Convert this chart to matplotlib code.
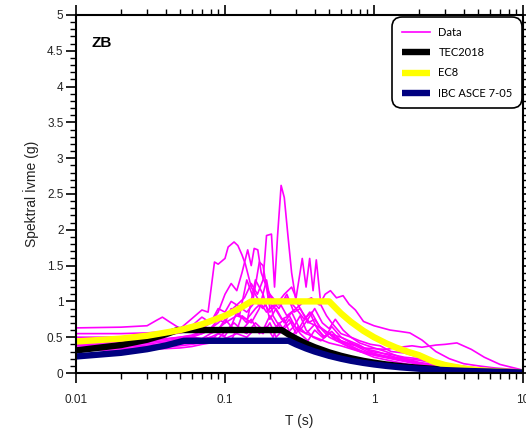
import matplotlib
matplotlib.use("Agg")
import matplotlib.pyplot as plt
from matplotlib.ticker import MultipleLocator, LogLocator, NullFormatter, FuncFormatter

# ---------------------------------------------------------------------------
# Recorded response spectra (period in s, spectral acceleration in g)
# ---------------------------------------------------------------------------
rec_a_T = [0.01, 0.02, 0.03, 0.035, 0.038, 0.042, 0.05, 0.06, 0.07, 0.077, 0.085, 0.09,
           0.1, 0.105, 0.115, 0.122, 0.13, 0.137, 0.15, 0.17, 0.19, 0.21, 0.24, 0.27, 0.3,
           0.35, 0.4, 0.5, 0.6, 0.8, 1.0, 1.3, 1.7, 2.2, 3, 4, 6, 10]
rec_a_Sa = [0.63, 0.64, 0.66, 0.74, 0.78, 0.72, 0.62, 0.76, 0.88, 0.85, 1.55, 1.52,
            1.6, 1.76, 1.83, 1.78, 1.65, 1.52, 1.2, 1.0, 0.85, 0.95, 0.75, 0.8, 0.62,
            0.55, 0.5, 0.42, 0.38, 0.3, 0.25, 0.2, 0.15, 0.1, 0.07, 0.05, 0.03, 0.02]

rec_b_T = [0.01, 0.02, 0.03, 0.04, 0.05, 0.06, 0.07, 0.08, 0.09, 0.1, 0.11, 0.12, 0.135,
           0.15, 0.165, 0.18, 0.19, 0.205, 0.215, 0.225, 0.238, 0.25, 0.265, 0.28, 0.3,
           0.33, 0.37, 0.42, 0.5, 0.6, 0.75, 0.9, 1.1, 1.4, 1.8, 2.5, 3.5, 5, 7, 10]
rec_b_Sa = [0.55, 0.55, 0.56, 0.58, 0.6, 0.66, 0.78, 0.7, 0.9, 0.85, 1.0, 0.95, 1.05,
            1.25, 1.1, 1.3, 1.92, 1.94, 1.2, 1.9, 2.62, 2.45, 1.9, 1.4, 1.0,
            0.85, 0.7, 0.65, 0.55, 0.45, 0.38, 0.3, 0.25, 0.2, 0.15, 0.1, 0.07, 0.05, 0.03, 0.02]

rec_c_T = [0.01, 0.02, 0.03, 0.04, 0.05, 0.06, 0.07, 0.08, 0.09, 0.1, 0.11, 0.12, 0.13,
           0.142, 0.15, 0.157, 0.166, 0.175, 0.19, 0.21, 0.23, 0.26, 0.29, 0.32, 0.36,
           0.4, 0.45, 0.5, 0.6, 0.7, 0.85, 1.0, 1.3, 1.7, 2.2, 3, 4, 6, 10]
rec_c_Sa = [0.50, 0.50, 0.51, 0.53, 0.56, 0.6, 0.62, 0.7, 0.85, 1.1, 1.25, 1.15, 1.4,
            1.72, 1.5, 1.74, 1.72, 1.4, 1.2, 1.0, 0.9, 1.1, 0.85, 0.9, 0.7,
            0.75, 0.6, 0.5, 0.42, 0.35, 0.28, 0.22, 0.17, 0.12, 0.09, 0.06, 0.04, 0.03, 0.015]

rec_d_T = [0.01, 0.02, 0.03, 0.04, 0.05, 0.06, 0.07, 0.08, 0.09, 0.1, 0.12, 0.14, 0.16,
           0.18, 0.2, 0.22, 0.25, 0.28, 0.3, 0.33, 0.35, 0.37, 0.39, 0.41, 0.44, 0.48,
           0.52, 0.6, 0.7, 0.8, 1.0, 1.2, 1.5, 2, 3, 4, 6, 10]
rec_d_Sa = [0.46, 0.46, 0.47, 0.48, 0.5, 0.52, 0.55, 0.6, 0.62, 0.7, 0.8, 0.75, 0.9,
            1.0, 0.85, 0.95, 1.1, 1.2, 1.05, 1.6, 1.2, 1.6, 1.15, 1.58, 0.95, 0.8,
            0.7, 0.55, 0.5, 0.42, 0.35, 0.3, 0.22, 0.15, 0.09, 0.06, 0.04, 0.02]

rec_e_T = [0.01, 0.02, 0.03, 0.04, 0.05, 0.06, 0.07, 0.08, 0.09, 0.1, 0.12, 0.14, 0.16,
           0.18, 0.2, 0.23, 0.26, 0.3, 0.34, 0.38, 0.43, 0.47, 0.51, 0.56, 0.62, 0.68,
           0.75, 0.85, 1.0, 1.28, 1.5, 1.74, 2.1, 2.6, 3.2, 4, 5, 6.5, 10]
rec_e_Sa = [0.44, 0.44, 0.45, 0.47, 0.5, 0.53, 0.58, 0.62, 0.7, 0.8, 0.95, 0.85, 1.0,
            0.9, 1.1, 0.95, 1.05, 0.9, 1.0, 1.05, 0.95, 1.1, 1.15, 1.05, 1.08, 0.96,
            0.88, 0.72, 0.66, 0.6, 0.58, 0.56, 0.46, 0.3, 0.2, 0.13, 0.1, 0.07, 0.04]

rec_f_T = [0.01, 0.02, 0.03, 0.04, 0.05, 0.06, 0.07, 0.08, 0.09, 0.1, 0.11, 0.125, 0.14,
           0.155, 0.17, 0.18, 0.2, 0.23, 0.26, 0.3, 0.34, 0.38, 0.43, 0.5, 0.6, 0.7, 0.84,
           1.0, 1.2, 1.5, 1.8, 2.1, 2.6, 3.0, 3.6, 4.5, 5.5, 7, 10]
rec_f_Sa = [0.42, 0.42, 0.43, 0.45, 0.48, 0.5, 0.55, 0.62, 0.75, 0.7, 0.9, 0.8, 1.3,
            1.05, 1.55, 1.5, 0.9, 1.0, 0.8, 0.9, 0.75, 0.85, 0.65, 0.55, 0.5, 0.42, 0.35,
            0.34, 0.33, 0.36, 0.38, 0.36, 0.39, 0.40, 0.42, 0.33, 0.22, 0.12, 0.04]

rec_g_T = [0.01, 0.02, 0.03, 0.04, 0.05, 0.06, 0.07, 0.08, 0.09, 0.1, 0.11, 0.12, 0.14,
           0.16, 0.18, 0.2, 0.22, 0.25, 0.28, 0.32, 0.36, 0.4, 0.45, 0.5, 0.55, 0.62,
           0.7, 0.8, 0.95, 1.1, 1.3, 1.6, 2, 2.5, 3.2, 4.5, 6, 10]
rec_g_Sa = [0.40, 0.40, 0.41, 0.43, 0.46, 0.5, 0.48, 0.55, 0.6, 0.75, 0.65, 0.85, 0.7,
            1.3, 1.1, 0.75, 0.9, 0.7, 0.85, 0.6, 0.75, 0.9, 0.7, 0.62, 0.75, 0.6,
            0.5, 0.45, 0.4, 0.38, 0.3, 0.28, 0.22, 0.18, 0.12, 0.08, 0.05, 0.02]

rec_h_T = [0.01, 0.02, 0.03, 0.04, 0.05, 0.06, 0.07, 0.08, 0.09, 0.1, 0.11, 0.12, 0.13,
           0.15, 0.17, 0.19, 0.21, 0.24, 0.27, 0.3, 0.33, 0.37, 0.42, 0.47, 0.52, 0.6,
           0.68, 0.78, 0.9, 1.05, 1.2, 1.5, 1.9, 2.4, 3, 4, 6, 10]
rec_h_Sa = [0.38, 0.38, 0.39, 0.40, 0.42, 0.44, 0.47, 0.5, 0.55, 0.52, 0.65, 0.6, 0.8,
            0.7, 0.9, 1.3, 0.8, 0.6, 0.75, 0.55, 0.7, 0.85, 0.6, 0.5, 0.65, 0.5,
            0.45, 0.4, 0.33, 0.3, 0.26, 0.2, 0.15, 0.1, 0.07, 0.05, 0.03, 0.02]

rec_i_T = [0.01, 0.02, 0.03, 0.04, 0.05, 0.06, 0.07, 0.08, 0.09, 0.1, 0.115, 0.13, 0.15,
           0.17, 0.19, 0.21, 0.23, 0.26, 0.29, 0.32, 0.35, 0.39, 0.44, 0.5, 0.56, 0.63,
           0.72, 0.82, 0.95, 1.1, 1.3, 1.6, 2.0, 2.5, 3.2, 4.5, 6.5, 10]
rec_i_Sa = [0.36, 0.36, 0.37, 0.38, 0.4, 0.42, 0.45, 0.5, 0.48, 0.58, 0.7, 0.6, 0.75,
            0.55, 0.65, 0.5, 0.7, 0.55, 0.65, 0.8, 0.6, 0.5, 0.45, 0.55, 0.48, 0.4,
            0.35, 0.3, 0.27, 0.25, 0.22, 0.2, 0.18, 0.14, 0.1, 0.06, 0.04, 0.02]

rec_j_T = [0.01, 0.02, 0.03, 0.04, 0.05, 0.06, 0.07, 0.08, 0.09, 0.1, 0.11, 0.12, 0.14,
           0.16, 0.18, 0.2, 0.22, 0.25, 0.28, 0.31, 0.35, 0.4, 0.46, 0.52, 0.6, 0.7,
           0.8, 0.95, 1.1, 1.3, 1.6, 2.0, 2.5, 3.2, 4.2, 6, 10]
rec_j_Sa = [0.34, 0.34, 0.35, 0.36, 0.38, 0.4, 0.42, 0.45, 0.55, 0.5, 0.45, 0.62, 0.55,
            0.7, 0.6, 0.8, 0.65, 0.75, 0.5, 0.65, 0.55, 0.68, 0.5, 0.58, 0.45, 0.4,
            0.38, 0.3, 0.28, 0.26, 0.22, 0.2, 0.15, 0.1, 0.07, 0.04, 0.02]

rec_k_T = [0.01, 0.02, 0.03, 0.04, 0.05, 0.06, 0.07, 0.08, 0.09, 0.1, 0.12, 0.14, 0.16,
           0.18, 0.2, 0.22, 0.25, 0.28, 0.32, 0.36, 0.4, 0.45, 0.5, 0.56, 0.63, 0.7,
           0.8, 0.9, 1.0, 1.2, 1.5, 1.9, 2.4, 3, 4, 6, 10]
rec_k_Sa = [0.32, 0.32, 0.33, 0.34, 0.35, 0.37, 0.4, 0.42, 0.45, 0.48, 0.55, 0.5, 0.62,
            0.55, 0.7, 0.5, 0.62, 0.72, 0.55, 0.45, 0.6, 0.5, 0.55, 0.45, 0.42, 0.38,
            0.32, 0.28, 0.25, 0.22, 0.18, 0.14, 0.1, 0.07, 0.05, 0.03, 0.02]

records = [
    (rec_a_T, rec_a_Sa), (rec_b_T, rec_b_Sa), (rec_c_T, rec_c_Sa), (rec_d_T, rec_d_Sa),
    (rec_e_T, rec_e_Sa), (rec_f_T, rec_f_Sa), (rec_g_T, rec_g_Sa), (rec_h_T, rec_h_Sa),
    (rec_i_T, rec_i_Sa), (rec_j_T, rec_j_Sa), (rec_k_T, rec_k_Sa),
]

# ---------------------------------------------------------------------------
# Design spectra
# ---------------------------------------------------------------------------
tec_T = [0.01, 0.02, 0.03, 0.04, 0.048, 0.24, 0.27, 0.3, 0.35, 0.4, 0.5, 0.6, 0.7, 0.85,
         1.0, 1.2, 1.5, 2.0, 2.5, 3.0, 4.0, 5.0, 6.0, 8.0, 10.0]
tec_Sa = [0.315, 0.39, 0.465, 0.54, 0.6, 0.6, 0.533, 0.48, 0.411, 0.36, 0.288, 0.24, 0.206,
          0.169, 0.144, 0.12, 0.096, 0.072, 0.058, 0.048, 0.036, 0.029, 0.024, 0.0135, 0.0086]

ec8_T = [0.01, 0.02, 0.03, 0.05, 0.07, 0.1, 0.12, 0.15, 0.5, 0.6, 0.7, 0.85, 1.0, 1.2,
         1.4, 1.7, 2.0, 2.5, 3.0, 4.0, 5.0, 6.5, 8.0, 10.0]
ec8_Sa = [0.44, 0.48, 0.52, 0.6, 0.68, 0.8, 0.88, 1.0, 1.0, 0.833, 0.714, 0.588, 0.5, 0.417,
          0.357, 0.294, 0.25, 0.16, 0.111, 0.0625, 0.04, 0.024, 0.0156, 0.01]

ibc_T = [0.01, 0.02, 0.03, 0.04, 0.053, 0.267, 0.3, 0.35, 0.4, 0.5, 0.6, 0.7, 0.85, 1.0,
         1.2, 1.5, 2.0, 2.5, 3.0, 4.0, 5.0, 6.0, 8.0, 10.0]
ibc_Sa = [0.231, 0.282, 0.333, 0.384, 0.45, 0.45, 0.40, 0.343, 0.30, 0.24, 0.2, 0.171, 0.141,
          0.12, 0.10, 0.08, 0.06, 0.048, 0.04, 0.03, 0.024, 0.02, 0.0113, 0.0072]

x_ticks = [0.01, 0.1, 1, 10]
y_major_step = 0.5
y_minor_step = 0.1

# ---------------------------------------------------------------------------
# Figure
# ---------------------------------------------------------------------------
plt.rcParams['font.family'] = ['Liberation Sans', 'DejaVu Sans']

fig = plt.figure(figsize=(5.26, 4.38), dpi=100)
ax = fig.add_axes([76 / 526, 65 / 438, 447 / 526, 358 / 438])

magenta = '#FF00FF'
for i, (t, sa) in enumerate(records):
    ax.plot(t, sa, color=magenta, lw=1.2, zorder=2, label='Data' if i == 0 else None)

ax.plot(tec_T, tec_Sa, color='black', lw=4.6, zorder=3, label='TEC2018',
        solid_capstyle='butt')
ax.plot(ec8_T, ec8_Sa, color='#FFFF00', lw=4.6, zorder=4, label='EC8',
        solid_capstyle='butt')
ax.plot(ibc_T, ibc_Sa, color='#000080', lw=4.6, zorder=5, label='IBC ASCE 7-05',
        solid_capstyle='butt')

ax.set_xscale('log')
ax.set_xlim(0.01, 10)
ax.set_ylim(0, 5)

ax.set_xticks(x_ticks)
ax.xaxis.set_major_formatter(FuncFormatter(lambda v, p: f'{v:g}'))
ax.xaxis.set_minor_locator(LogLocator(base=10, subs=range(2, 10)))
ax.xaxis.set_minor_formatter(NullFormatter())
ax.yaxis.set_major_locator(MultipleLocator(y_major_step))
ax.yaxis.set_minor_locator(MultipleLocator(y_minor_step))
ax.yaxis.set_major_formatter(FuncFormatter(lambda v, p: f'{v:g}'))

for sp in ax.spines.values():
    sp.set_linewidth(1.5)
    sp.set_zorder(6)

ax.tick_params(which='major', direction='out', length=7, width=1.2,
               top=True, right=True, labelsize=8.5, labelcolor='#222222')
ax.tick_params(which='minor', direction='out', length=4, width=1.0,
               top=True, right=True)
ax.tick_params(axis='x', which='major', pad=8)
ax.tick_params(axis='y', which='major', pad=2)

ax.set_xlabel('T (s)', fontsize=10, color='#222222', labelpad=6)
ax.set_ylabel('Spektral İvme (g)', fontsize=10, color='#222222', labelpad=6)

ax.text(0.034, 0.94, 'ZB', transform=ax.transAxes, ha='left', va='top',
        fontsize=11, fontweight='bold', family=['Liberation Sans', 'DejaVu Sans'])

leg = ax.legend(loc='upper right', bbox_to_anchor=(0.998, 0.994), borderaxespad=0,
                frameon=True, fancybox=True, edgecolor='black', framealpha=1,
                prop={'family': ['Lato', 'DejaVu Sans'], 'size': 8},
                handlelength=2.5, handletextpad=0.8, labelspacing=0.85,
                borderpad=0.85)
leg.get_frame().set_linewidth(1.2)
leg.get_frame().set_boxstyle('round,pad=0,rounding_size=0.9')
leg.set_zorder(10)

fig.savefig('out.png', dpi=100)
